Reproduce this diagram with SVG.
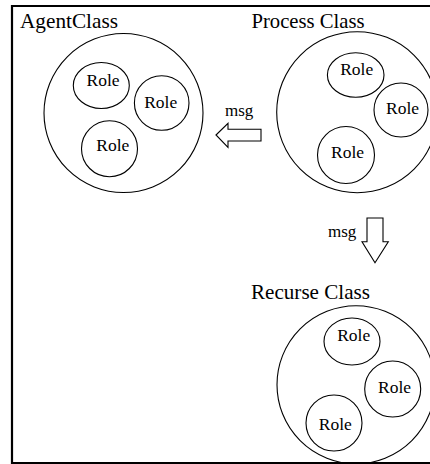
<svg xmlns="http://www.w3.org/2000/svg" width="430" height="464" viewBox="0 0 430 464" font-family="'Liberation Serif', 'Times New Roman', serif">
  <style>
    .frame { fill: none; stroke: #000; stroke-width: 2.2; }
    .cls { fill: none; stroke: #000; stroke-width: 1.1; }
    .role { fill: #fff; stroke: #000; stroke-width: 1.1; }
    .arrow { fill: #fff; stroke: #000; stroke-width: 1.1; stroke-linejoin: miter; }
    text { font-family: "Liberation Serif", "Times New Roman", serif; fill: #000; }
    .title { font-size: 21px; }
    .rl { font-size: 17.5px; text-anchor: middle; }
    .msg { font-size: 17px; }
  </style>
  <rect width="430" height="464" fill="#fff"/>
  <!-- outer frame, open on the right -->
  <path class="frame" d="M432,6 H12 V463 H432"/>

  <g id="agent-class">
    <text class="title" x="20" y="28" textLength="98" lengthAdjust="spacingAndGlyphs">AgentClass</text>
    <circle class="cls" cx="123.5" cy="113" r="79.5"/>
    <g id="agent-role-1">
      <ellipse class="role" cx="101.3" cy="85.5" rx="28" ry="23"/>
      <text class="rl" x="103" y="85.5">Role</text>
    </g>
    <g id="agent-role-2">
      <circle class="role" cx="161.7" cy="103" r="27.3"/>
      <text class="rl" x="160.7" y="107.5">Role</text>
    </g>
    <g id="agent-role-3">
      <circle class="role" cx="109.5" cy="148.7" r="28"/>
      <text class="rl" x="112.8" y="150.8">Role</text>
    </g>
  </g>

  <g id="process-class">
    <text class="title" x="251.5" y="28.3" textLength="113" lengthAdjust="spacingAndGlyphs">Process Class</text>
    <circle class="cls" cx="357.2" cy="112.2" r="80.5"/>
    <g id="process-role-1">
      <ellipse class="role" cx="355.7" cy="75" rx="28.3" ry="22.3"/>
      <text class="rl" x="356.7" y="74.5">Role</text>
    </g>
    <g id="process-role-2">
      <circle class="role" cx="401" cy="110" r="27"/>
      <text class="rl" x="402.5" y="113.5">Role</text>
    </g>
    <g id="process-role-3">
      <circle class="role" cx="346" cy="155" r="28.5"/>
      <text class="rl" x="347.5" y="157.5">Role</text>
    </g>
  </g>

  <g id="recurse-class">
    <text class="title" x="251" y="299.3" textLength="119" lengthAdjust="spacingAndGlyphs">Recurse Class</text>
    <circle class="cls" cx="356" cy="384.7" r="79"/>
    <g id="recurse-role-1">
      <ellipse class="role" cx="352" cy="341.5" rx="28" ry="23.5"/>
      <text class="rl" x="353.7" y="340.5">Role</text>
    </g>
    <g id="recurse-role-2">
      <circle class="role" cx="392.7" cy="389" r="28"/>
      <text class="rl" x="394.5" y="393">Role</text>
    </g>
    <g id="recurse-role-3">
      <circle class="role" cx="334" cy="423" r="28"/>
      <text class="rl" x="335.3" y="430.3">Role</text>
    </g>
  </g>

  <g id="connectors">
    <g id="msg-to-agent">
      <text class="msg" x="225" y="116">msg</text>
      <polygon class="arrow" points="216,135 228,123.3 228,129.3 261,129.3 261,141 228,141 228,147.3"/>
    </g>
    <g id="msg-to-recurse">
      <text class="msg" x="328" y="236.7">msg</text>
      <polygon class="arrow" points="367,218 383,218 383,241.7 388.3,241.7 375,262.7 362,241.7 367,241.7"/>
    </g>
  </g>
</svg>
